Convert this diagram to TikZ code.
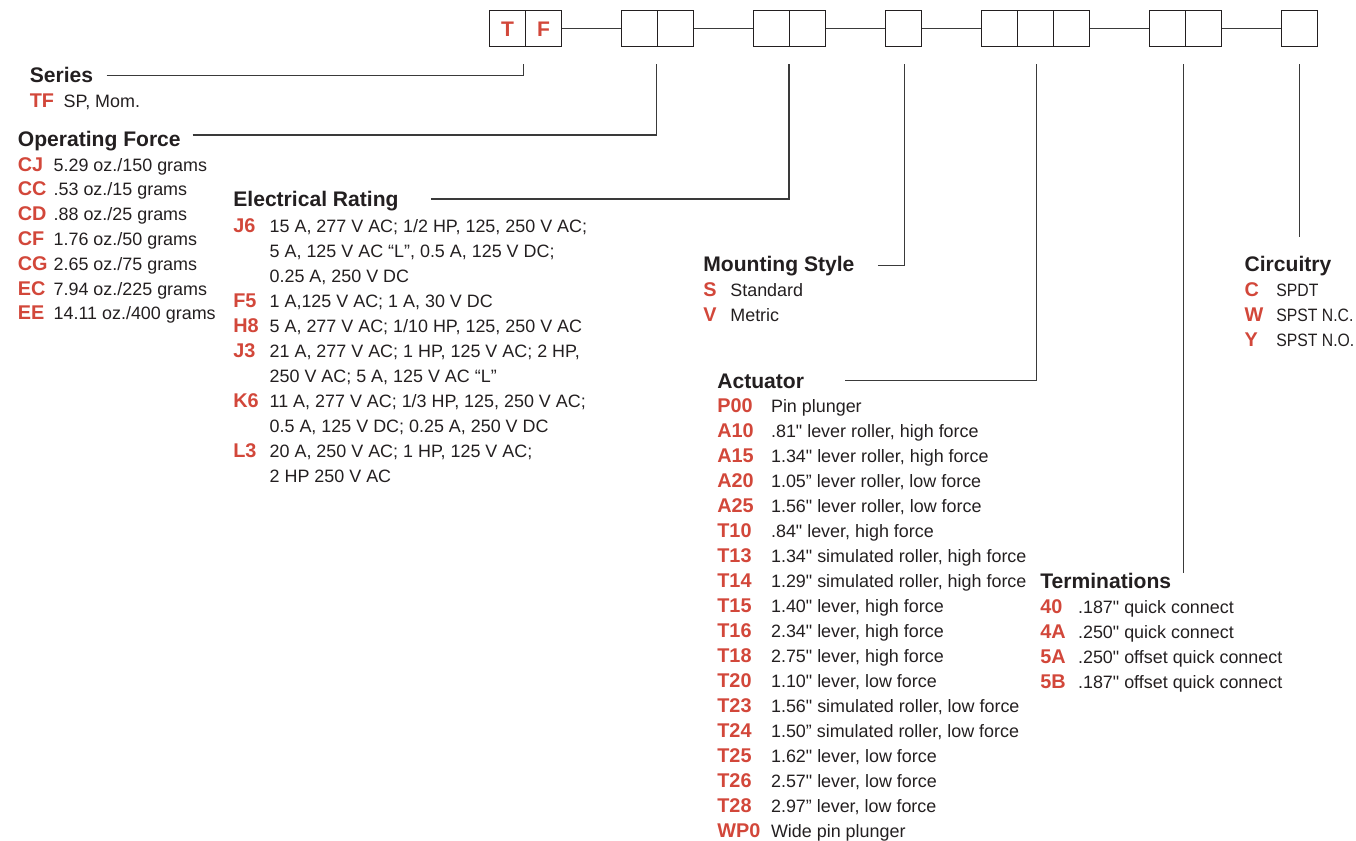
\documentclass[tikz,border=0pt]{standalone}
\usepackage{fontspec}
\setmainfont{Liberation Sans}[Ligatures=TeXOff]
\usepackage{tikz}
\usetikzlibrary{positioning,calc}
\usepackage{xcolor}
\definecolor{OrderRed}{HTML}{D2473A}
\definecolor{OrderInk}{HTML}{231F20}
\definecolor{OrderLine}{HTML}{3A3A3A}

\tikzset{
  cell/.style={draw=OrderInk, line width=.8pt, minimum size=.72cm, inner sep=0pt,
    text=OrderRed, font=\fontsize{12}{12}\selectfont\bfseries, text height=8.6pt, text depth=0pt},
  head/.style={anchor=base west, inner sep=0pt, text=OrderInk, font=\fontsize{12}{14}\selectfont\bfseries},
  code/.style={anchor=base west, inner sep=0pt, text=OrderRed, font=\fontsize{11.3}{13}\selectfont\bfseries},
  desc/.style={anchor=base west, inner sep=0pt, text=OrderInk, font=\fontsize{10.2}{12}\selectfont},
  narrowdesc/.style={desc, font=\fontsize{10.2}{12}\selectfont\addfontfeature{FakeStretch=0.88}},
  link/.style={draw=OrderLine, line width=.7pt},
}

\begin{document}
\begin{tikzpicture}[x=0.02cm, y=-0.02cm]
  \useasboundingbox (0,0) rectangle (1356,840);
  % order code boxes
  \node[cell] (t1) at (507.5,28.5) {T}; \node[cell] (t2) at (543.5,28.5) {F};
  \foreach \n/\x in {f1/639.7, f2/675.7, e1/771.5, e2/807.5, m1/903.5, a1/999.5, a2/1035.5,
      a3/1071.5, r1/1167.3, r2/1203.3, c1/1299.3}
    \node[cell] (\n) at (\x,28.5) {};
  \draw[link] (t2.east) -- (f1.west); \draw[link] (f2.east) -- (e1.west);
  \draw[link] (e2.east) -- (m1.west); \draw[link] (m1.east) -- (a1.west);
  \draw[link] (a3.east) -- (r1.west); \draw[link] (r2.east) -- (c1.west);
  % leader tops
  \coordinate (ls) at (523.3,64); \coordinate (lo) at (656.3,64); \coordinate (le) at (789,64);
  \coordinate (lm) at (904.2,64); \coordinate (la) at (1036.6,64);
  \coordinate (lt) at (1183.3,64); \coordinate (lc) at (1299.3,64);
  \coordinate (ltend) at (1183.3,573.3); \coordinate (lcend) at (1299.3,237);

  % Series
  \node[head] (series) at (29.5,82.5) {Series};
  \node[code] (tfc) at (29.5,107.7) {TF}; \node[desc] (tfd) at (63.3,107.7) {SP, Mom.};
  \draw[link] ([shift={(13,-7.2)}]series.base east) -| (ls);

  % Operating Force
  \node[head] (opforce) at (17.5,146) {Operating Force};
  \foreach \c/\d [count=\i from 0] in {CJ/{5.29 oz./150 grams}, CC/{.53 oz./15 grams},
      CD/{.88 oz./25 grams}, CF/{1.76 oz./50 grams}, CG/{2.65 oz./75 grams},
      EC/{7.94 oz./225 grams}, EE/{14.11 oz./400 grams}} {
    \node[code] (ofc\i) at (17.5,{171+24.8*\i}) {\c};
    \node[desc] (ofd\i) at (53.3,{171+24.8*\i}) {\d};
  }
  \draw[link] ([shift={(11.6,-11)}]opforce.base east) -| (lo);

  % Electrical Rating
  \node[head] (elrating) at (233,206.7) {Electrical Rating};
  \foreach \c/\d [count=\i from 0] in {J6/{15 A, 277 V AC; 1/2 HP, 125, 250 V AC;},
      {}/{5 A, 125 V AC “L”, 0.5 A, 125 V DC;}, {}/{0.25 A, 250 V DC},
      F5/{1 A,125 V AC; 1 A, 30 V DC}, H8/{5 A, 277 V AC; 1/10 HP, 125, 250 V AC},
      J3/{21 A, 277 V AC; 1 HP, 125 V AC; 2 HP,}, {}/{250 V AC; 5 A, 125 V AC “L”},
      K6/{11 A, 277 V AC; 1/3 HP, 125, 250 V AC;}, {}/{0.5 A, 125 V DC; 0.25 A, 250 V DC},
      L3/{20 A, 250 V AC; 1 HP, 125 V AC;}, {}/{2 HP 250 V AC}} {
    \node[code] (erc\i) at (233,{232.7+25*\i}) {\c};
    \node[desc] (erd\i) at (269.3,{232.7+25*\i}) {\d};
  }
  \draw[link] ([shift={(32,-7.7)}]elrating.base east) -| (le);

  % Mounting Style
  \node[head] (mounting) at (703,271.7) {Mounting Style};
  \foreach \c/\d [count=\i from 0] in {S/Standard, V/Metric} {
    \node[code] (msc\i) at (703,{296.5+25*\i}) {\c};
    \node[desc] (msd\i) at (730,{296.5+25*\i}) {\d};
  }
  \draw[link] ([shift={(23,-6)}]mounting.base east) -| (lm);

  % Actuator
  \node[head] (actuator) at (717,388) {Actuator};
  \foreach \c/\d [count=\i from 0] in {P00/{Pin plunger}, A10/{.81" lever roller, high force},
      A15/{1.34" lever roller, high force}, A20/{1.05” lever roller, low force},
      A25/{1.56" lever roller, low force}, T10/{.84" lever, high force},
      T13/{1.34" simulated roller, high force}, T14/{1.29" simulated roller, high force},
      T15/{1.40" lever, high force}, T16/{2.34" lever, high force},
      T18/{2.75" lever, high force}, T20/{1.10" lever, low force},
      T23/{1.56" simulated roller, low force}, T24/{1.50” simulated roller, low force},
      T25/{1.62" lever, low force}, T26/{2.57" lever, low force},
      T28/{2.97” lever, low force}, WP0/{Wide pin plunger}} {
    \node[code] (acc\i) at (717,{412.7+25*\i}) {\c};
    \node[desc] (acd\i) at (770.7,{412.7+25*\i}) {\d};
  }
  \draw[link] ([shift={(41,-7.3)}]actuator.base east) -| (la);

  % Terminations
  \node[head] (termin) at (1040,588.3) {Terminations};
  \foreach \c/\d [count=\i from 0] in {40/{.187" quick connect}, 4A/{.250" quick connect},
      5A/{.250" offset quick connect}, 5B/{.187" offset quick connect}} {
    \node[code] (tmc\i) at (1040,{613.3+25*\i}) {\c};
    \node[desc] (tmd\i) at (1077.7,{613.3+25*\i}) {\d};
  }
  \draw[link] (lt) -- (ltend);

  % Circuitry
  \node[head] (circuit) at (1244.3,271.7) {Circuitry};
  \foreach \c/\d [count=\i from 0] in {C/SPDT, W/{SPST N.C.}, Y/{SPST N.O.}} {
    \node[code] (cic\i) at (1244.3,{296.7+25*\i}) {\c};
    \node[narrowdesc] (cid\i) at (1276,{296.7+25*\i}) {\d};
  }
  \draw[link] (lc) -- (lcend);
\end{tikzpicture}
\end{document}
